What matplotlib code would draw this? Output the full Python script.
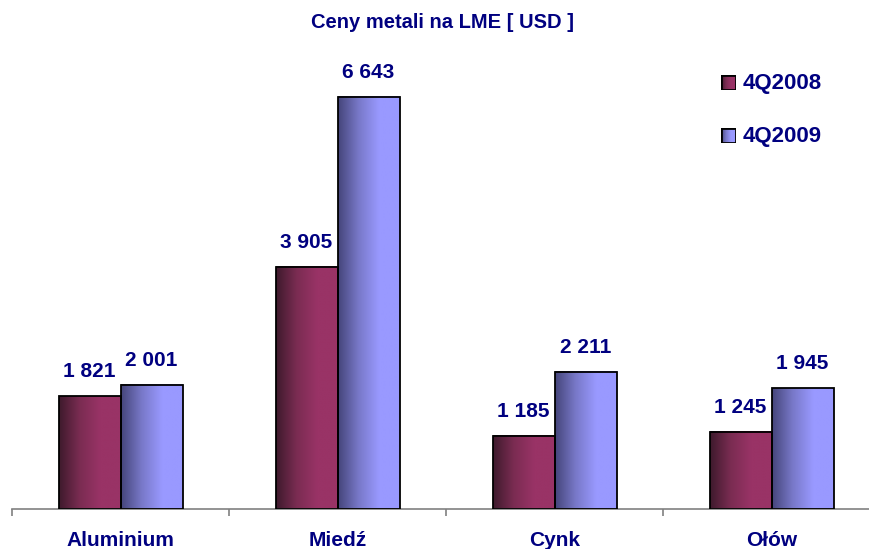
import matplotlib
matplotlib.use("Agg")
import matplotlib.pyplot as plt
import numpy as np
from matplotlib.colors import LinearSegmentedColormap
from matplotlib.patches import Rectangle

categories = ["Aluminium", "Miedź", "Cynk", "Ołów"]
series = ["4Q2008", "4Q2009"]
v2008 = [1821, 3905, 1185, 1245]
v2009 = [2001, 6643, 2211, 1945]

navy = "#000080"
plt.rcParams["font.family"] = ["Liberation Sans", "DejaVu Sans"]

cmaps = [
    LinearSegmentedColormap.from_list("c08", ["#3e1a2c", "#7a2c52", "#993366", "#993366"]),
    LinearSegmentedColormap.from_list("c09", ["#45457a", "#7878c8", "#9999ff", "#9999ff"]),
]

fig = plt.figure(figsize=(8.69, 5.49), dpi=100)
ax = fig.add_axes([12 / 869, 40 / 549, 857 / 869, 469 / 549])

px_per_unit = 412 / 6643
w = 62 / 217
grad = np.linspace(0, 1, 256).reshape(1, -1)
for s, vals in enumerate([v2008, v2009]):
    for i, v in enumerate(vals):
        x0 = i - w + s * w
        ax.imshow(grad, cmap=cmaps[s], aspect="auto", extent=(x0, x0 + w, 0, v),
                  zorder=2, interpolation="bilinear")
        ax.add_patch(Rectangle((x0, 0), w, v, fill=False, edgecolor="black",
                               linewidth=1.3, zorder=3))
        ax.text(x0 + w / 2, v + 19 / px_per_unit, f"{v:,}".replace(",", " "),
                ha="center", va="baseline", fontsize=15, fontweight="bold", color=navy)

for sp in ["top", "right", "left"]:
    ax.spines[sp].set_visible(False)
ax.spines["bottom"].set_color("#808080")
ax.spines["bottom"].set_linewidth(1.2)
ax.set_yticks([])
ax.set_xticks(np.arange(-0.5, 4, 1))
ax.set_xticklabels([])
ax.tick_params(axis="x", direction="out", length=5, color="#808080", width=1.2)
ax.set_xlim(-0.5, -0.5 + 857 / 217)
ax.set_ylim(0, 469 / px_per_unit)
for i, c in enumerate(categories):
    ax.text(i, -37 / px_per_unit, c, ha="center", va="baseline", fontsize=15,
            fontweight="bold", color=navy, clip_on=False)

fig.text(442 / 869, 1 - 28 / 549, "Ceny metali na LME [ USD ]", ha="center", va="baseline",
         fontsize=14.5, fontweight="bold", color=navy)

for s, (top, base) in enumerate([(75, 89), (128, 142)]):
    lx = fig.add_axes([721 / 869, 1 - (top + 15) / 549, 15 / 869, 15 / 549])
    lx.imshow(grad, cmap=cmaps[s], aspect="auto", extent=(0, 1, 0, 1))
    lx.add_patch(Rectangle((0, 0), 1, 1, fill=False, edgecolor="black", linewidth=2))
    lx.set_xlim(0, 1)
    lx.set_ylim(0, 1)
    lx.axis("off")
    fig.text(743 / 869, 1 - base / 549, series[s], ha="left", va="baseline", fontsize=16,
             fontweight="bold", color=navy)

fig.savefig("out.png", dpi=100)
